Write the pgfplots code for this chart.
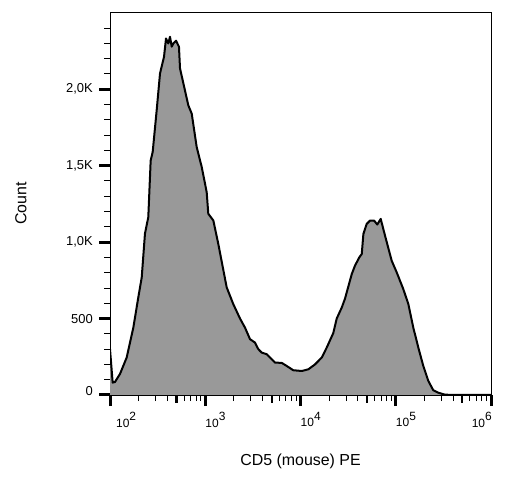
\documentclass[border=0pt]{standalone}
\usepackage{fontspec}
\setmainfont{Liberation Sans}
\usepackage{pgfplots}
\usepackage{pgfplotstable}
\pgfplotsset{compat=1.18}
\definecolor{fillgray}{HTML}{999999}
\pgfplotstableread{
x y
2.000 300
2.028 81
2.052 85
2.105 138
2.175 245
2.245 441
2.297 638
2.333 769
2.367 1055
2.402 1163
2.427 1534
2.448 1589
2.490 1862
2.525 2103
2.567 2212
2.588 2332
2.612 2299
2.630 2343
2.648 2278
2.665 2299
2.693 2317
2.724 2278
2.735 2136
2.822 1895
2.858 1840
2.910 1622
2.963 1491
3.015 1327
3.032 1185
3.085 1141
3.137 988
3.225 704
3.294 595
3.365 500
3.417 441
3.470 365
3.522 343
3.557 300
3.593 277
3.645 267
3.698 234
3.732 212
3.803 210
3.855 190
3.924 162
4.013 157
4.082 168
4.152 200
4.223 245
4.275 310
4.344 405
4.380 500
4.433 572
4.467 630
4.538 791
4.572 846
4.617 900
4.643 922
4.660 1053
4.695 1119
4.730 1141
4.772 1141
4.806 1115
4.842 1152
4.887 1043
4.957 879
5.010 802
5.079 693
5.132 595
5.184 441
5.237 310
5.289 190
5.342 92
5.394 31
5.447 15
5.517 2
5.675 0
6.000 0
}\cdfive
\newcommand{\xl}[1]{10\raisebox{6.5bp}{#1}}
\begin{document}
\begin{tikzpicture}[x=1bp,y=1bp]
\path[use as bounding box] (0,0) rectangle (508,482);
\begin{axis}[
  at={(110bp,87bp)}, anchor=south west,
  scale only axis, width=381bp, height=383bp,
  xmin=2, xmax=6, ymin=0, ymax=2505,
  axis line style={line width=0.8bp},
  tick align=outside,
  tick pos=left,
  major tick length=11bp, minor tick length=6bp,
  major tick style={line width=3bp, black},
  minor tick style={line width=0.9bp, black},
  xtick={2,3,4,5,6},
  xticklabels={\hspace*{6bp}\xl{2},\xl{3},\xl{4},\xl{5},\makebox[0pt][r]{\xl{6}}},
  xticklabel style={anchor=north west, inner sep=0pt, yshift=-6bp, font=\fontsize{12}{14}\selectfont},
  minor xtick={2.30103,2.47712,2.60206,2.77815,2.84510,2.90309,2.95424,
               3.30103,3.47712,3.60206,3.77815,3.84510,3.90309,3.95424,
               4.30103,4.47712,4.60206,4.77815,4.84510,4.90309,4.95424,
               5.30103,5.47712,5.60206,5.77815,5.84510,5.90309,5.95424},
  extra x ticks={2.69897,3.69897,4.69897,5.69897},
  extra x tick labels={},
  extra x tick style={major tick length=7.5bp, major tick style={line width=2.2bp}},
  ytick={0,500,1000,1500,2000},
  yticklabels={\raisebox{8bp}{0},500,{1,0K},{1,5K},{2,0K}},
  yticklabel style={anchor=east, inner sep=0pt, xshift=-6bp, font=\fontsize{13}{15}\selectfont},
  minor ytick={100,200,300,400,600,700,800,900,1100,1200,1300,1400,1600,1700,1800,1900,2100,2200,2300,2400},
  xlabel={CD5 (mouse) PE},
  ylabel={Count},
  xlabel style={at={(rel axis cs:0.5,0)}, anchor=center, yshift=-66bp, font=\fontsize{16}{18}\selectfont},
  ylabel style={at={([xshift=-89bp]rel axis cs:0,0.5)}, anchor=center, font=\fontsize{16}{18}\selectfont},
]
\addplot[fill=fillgray, draw=none] table {\cdfive} \closedcycle;
\addplot[black, line width=2bp, line join=round] table {\cdfive};
\end{axis}
\end{tikzpicture}
\end{document}
